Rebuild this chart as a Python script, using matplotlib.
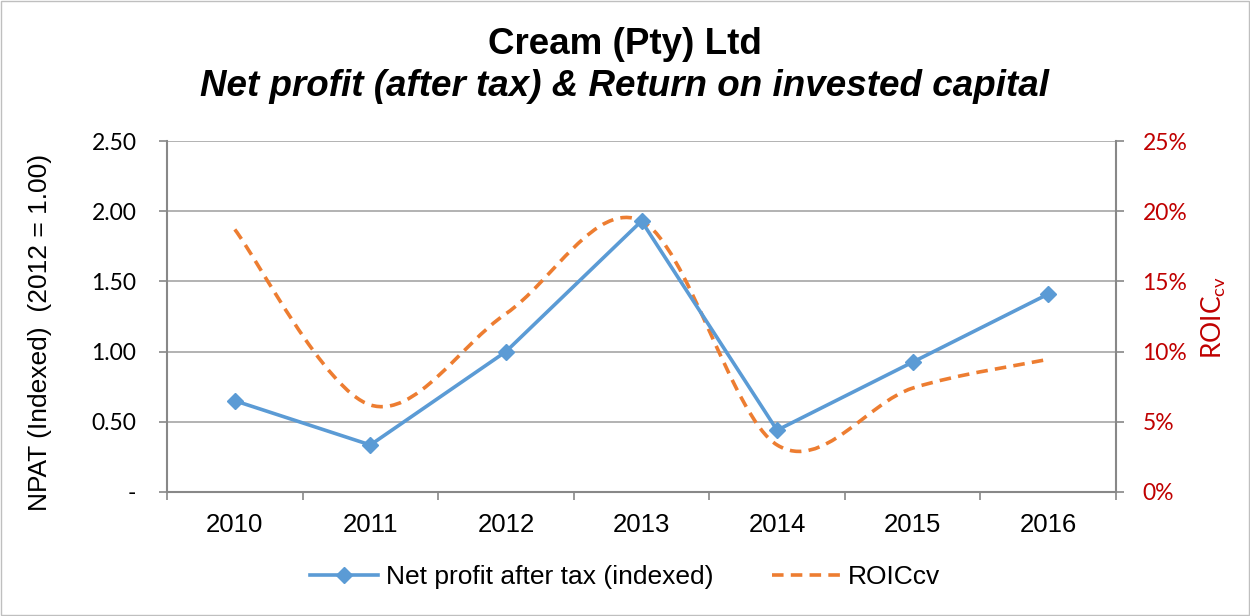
import matplotlib
matplotlib.use("Agg")
import matplotlib.pyplot as plt
from matplotlib.path import Path
from matplotlib.patches import PathPatch, Rectangle
from matplotlib.lines import Line2D
import numpy as np

plt.rcParams['font.family'] = ['Liberation Sans', 'DejaVu Sans']
plt.rcParams['mathtext.fontset'] = 'custom'
plt.rcParams['mathtext.rm'] = 'Lato'

years = ['2010', '2011', '2012', '2013', '2014', '2015', '2016']
npat = [0.65, 0.335, 1.00, 1.93, 0.44, 0.925, 1.41]
roic = [18.7, 6.2, 12.7, 19.3, 3.35, 7.4, 9.45]  # percent
left_ticks = [0, 0.5, 1.0, 1.5, 2.0, 2.5]
left_labels = ['-', '0.50', '1.00', '1.50', '2.00', '2.50']
right_ticks = [0, 5, 10, 15, 20, 25]
right_labels = ['0%', '5%', '10%', '15%', '20%', '25%']

BLUE = '#5B9BD5'
ORANGE = '#ED7D31'
RED = '#C00000'
GRID = '#A6A6A6'
AX = '#888888'
W, H = 1250, 616

fig = plt.figure(figsize=(12.5, 6.16), dpi=100)
fig.patches.append(Rectangle((0.0008, 0.0016), 0.9984, 0.9968,
                   transform=fig.transFigure, fill=False, edgecolor='#BFBFBF', lw=1.0))
rect = [167/W, 1-492/H, (1116-167)/W, (492-141)/H]
ax2 = fig.add_axes(rect)          # right axis (ROIC), drawn underneath
ax = fig.add_axes(rect, sharex=ax2)  # left axis (NPAT), drawn on top
ax.patch.set_visible(False)
ax2.set_zorder(1)
ax.set_zorder(2)

x = np.arange(len(years))
ax2.set_xlim(-0.5, len(years)-0.5)
ax.set_ylim(0, 2.5)
ax2.set_ylim(0, 25)

ax2.yaxis.tick_right()
ax.set_yticks(left_ticks)
ax.set_yticklabels(left_labels, fontsize=16.5, family='Lato', color='black')
ax2.set_yticks(right_ticks)
ax2.set_yticklabels(right_labels, fontsize=16.5, family='Lato', color=RED)
ax.set_xticks(x)
ax.set_xticklabels(years, fontsize=18.5)
ax.set_xticks(np.arange(len(years)+1)-0.5, minor=True)
ax.tick_params(axis='x', which='major', length=0, pad=15)
ax.tick_params(axis='x', which='minor', length=6, color=AX, width=1.2)
ax.tick_params(axis='y', length=6, color=AX, width=1.2, pad=16)
ax2.tick_params(axis='y', length=6, color=AX, width=1.2, pad=13)
ax2.tick_params(axis='x', which='both', length=0, labelbottom=False)

ax2.grid(axis='y', color=GRID, lw=1.2)
ax2.set_axisbelow(True)
for s in ('top', 'left', 'bottom'):
    ax2.spines[s].set_visible(False)
ax2.spines['right'].set_color(AX)
ax2.spines['right'].set_linewidth(1.5)
for s in ('top', 'right'):
    ax.spines[s].set_visible(False)
for s in ('left', 'bottom'):
    ax.spines[s].set_color(AX)
    ax.spines[s].set_linewidth(1.5)

fig.text(40/W, 1-332/H, 'NPAT (Indexed)  (2012 = 1.00)', rotation=90,
         ha='center', va='center', fontsize=19)
fig.text(1214/W, 1-317/H, r'ROIC$_{\mathrm{cv}}$', rotation=90, ha='center',
         va='center', fontsize=19, color=RED, family='Lato')

# smoothed ROIC line (Excel-style Bezier smoothing through the data points)
px = np.array(x, float)
py = np.array(roic, float)
verts = [(px[0], py[0])]
codes = [Path.MOVETO]
n = len(px)
t = 1/6
for i in range(n-1):
    p0 = (px[max(i-1, 0)], py[max(i-1, 0)])
    p1 = (px[i], py[i])
    p2 = (px[i+1], py[i+1])
    p3 = (px[min(i+2, n-1)], py[min(i+2, n-1)])
    c1 = (p1[0] + (p2[0]-p0[0])*t, p1[1] + (p2[1]-p0[1])*t)
    c2 = (p2[0] - (p3[0]-p1[0])*t, p2[1] - (p3[1]-p1[1])*t)
    verts += [c1, c2, p2]
    codes += [Path.CURVE4]*3
DASH = (0, (3.2, 2.0))
ax2.add_patch(PathPatch(Path(verts, codes), fill=False, edgecolor=ORANGE, lw=2.6,
                        linestyle=DASH, capstyle='butt', zorder=3))

ax.plot(x, npat, color=BLUE, lw=2.6, marker='D', markersize=8.5, zorder=4)

fig.text(0.5, 1-45/H, 'Cream (Pty) Ltd', ha='center', va='center',
         fontsize=26.5, fontweight='bold')
fig.text(0.5, 1-87/H, 'Net profit (after tax) & Return on invested capital',
         ha='center', va='center', fontsize=26.5, fontweight='bold', style='italic')

h1 = Line2D([], [], color=BLUE, lw=2.6, marker='D', markersize=8.5)
h2 = Line2D([], [], color=ORANGE, lw=2.6, linestyle=DASH)
fig.legend([h1, h2], ['Net profit after tax (indexed)', 'ROICcv'],
           loc='center', bbox_to_anchor=(0.5, 1-577/H), ncol=2, frameon=False,
           fontsize=19, handlelength=2.6, columnspacing=2.2, handletextpad=0.3)

fig.savefig('out.png', dpi=100)
